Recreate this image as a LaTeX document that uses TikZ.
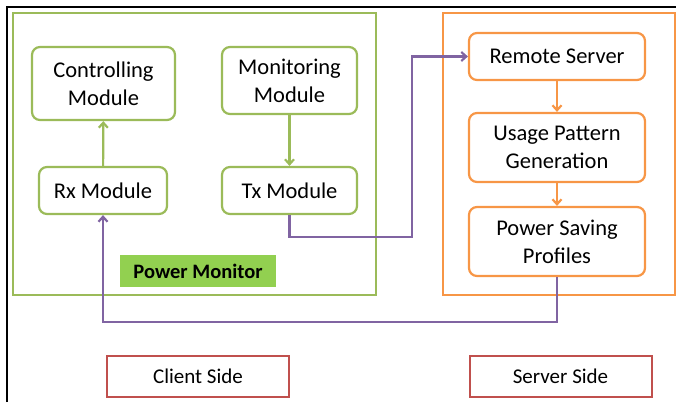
\documentclass[tikz,border=0pt]{standalone}
\usepackage{fontspec}
\setmainfont{Carlito}
\usetikzlibrary{arrows.meta}

\definecolor{modgreen}{HTML}{9BBB59}
\definecolor{pmgreen}{HTML}{92D050}
\definecolor{srvorange}{HTML}{F79646}
\definecolor{linkpurple}{HTML}{8064A2}
\definecolor{sidered}{HTML}{C0504D}

\tikzset{
  module/.style={draw=modgreen, line width=2.2pt, rounded corners=8pt, align=center,
    inner sep=0pt, font=\fontsize{22.5}{28}\selectfont},
  srvmodule/.style={draw=srvorange, line width=2.2pt, rounded corners=8pt, align=center,
    inner sep=0pt, minimum width=176pt, font=\fontsize{22.5}{28}\selectfont},
  sidebox/.style={draw=sidered, line width=2pt, minimum width=182pt, minimum height=41pt,
    inner sep=0pt, font=\fontsize{21}{24}\selectfont},
  flow/.style={line width=2.2pt, -{Straight Barb[length=5pt,width=9pt]}},
}

\begin{document}
\begin{tikzpicture}[x=1pt,y=-1pt]
  \useasboundingbox (0,0) rectangle (676,402);
  % frame edges
  \draw[line width=2pt] (7,402) -- (7,7) -- (676,7);
  % client side
  \draw[modgreen, line width=2.2pt] (13,13) rectangle (376,295);
  \node[module, minimum width=143pt, minimum height=73pt] (ctrl) at (103.5,83.5) {Controlling\\Module};
  \node[module, minimum width=135pt, minimum height=67pt] (mon) at (289.5,80.5) {Monitoring\\Module};
  \node[module, minimum width=128pt, minimum height=47pt] (rx) at (103,190.5) {Rx Module};
  \node[module, minimum width=135pt, minimum height=47pt] (tx) at (289.5,190.5) {Tx Module};
  \node[fill=pmgreen, minimum width=156pt, minimum height=32pt, inner sep=0pt,
    font=\fontsize{20.5}{24}\selectfont\bfseries] (pm) at (198,271) {Power Monitor};
  % server side
  \draw[srvorange, line width=2.2pt] (443,13) rectangle (675,295);
  \node[srvmodule, minimum height=47pt] (remote) at (557,56.5) {Remote Server};
  \node[srvmodule, minimum height=69pt] (usage) at (557,147.5) {Usage Pattern\\Generation};
  \node[srvmodule, minimum height=69pt] (saving) at (557,241.5) {Power Saving\\Profiles};
  % side labels
  \node[sidebox] (client) at (198,376.5) {Client Side};
  \node[sidebox] (server) at (560.5,376.5) {Server Side};
  % links
  \draw[flow, modgreen] (rx) -- (ctrl);
  \draw[flow, modgreen] (mon) -- (tx);
  \draw[flow, srvorange] (remote) -- (usage);
  \draw[flow, srvorange] (usage) -- (saving);
  \draw[flow, linkpurple] (tx.south) |- (412,237) |- (remote.west);
  \draw[flow, linkpurple] (saving.south) |- (103,322) -- (rx.south);
\end{tikzpicture}
\end{document}
